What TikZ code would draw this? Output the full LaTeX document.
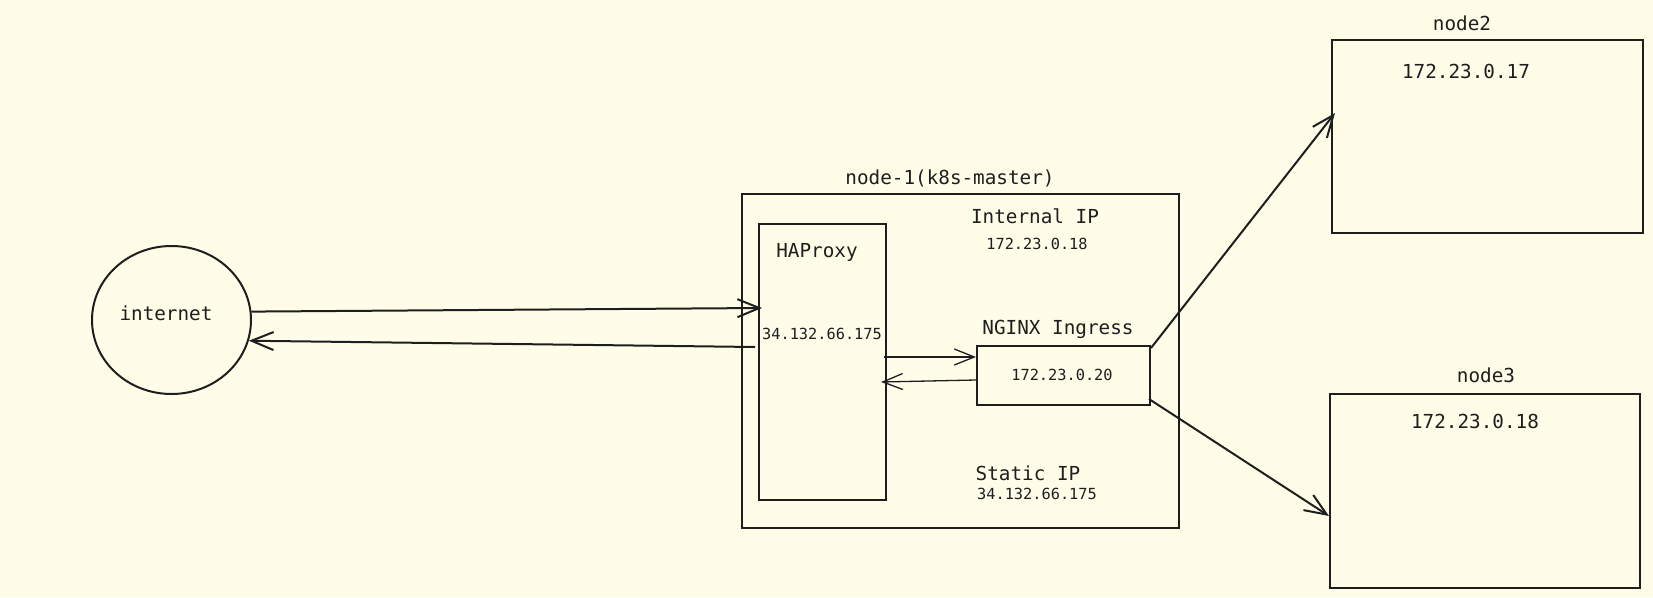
\documentclass[tikz,border=0pt]{standalone}
\usepackage{fontspec}
\setmonofont{DejaVu Sans Mono}
\usepackage{tikz}
\usetikzlibrary{arrows.meta, shapes.geometric}

\definecolor{paper}{RGB}{255,253,232}
\definecolor{ink}{RGB}{30,30,30}

\tikzset{
  box/.style = {draw = ink, line width = 2pt, inner sep = 0pt},
  bigtxt/.style = {text = ink, anchor = mid, font = \ttfamily\fontsize{19.3}{22}\selectfont},
  smalltxt/.style = {text = ink, anchor = mid, font = \ttfamily\fontsize{15.3}{18}\selectfont},
  link/.style = {draw = ink, line width = 2pt, -{Straight Barb[length = 22pt, width = 18pt]}},
  thinlink/.style = {draw = ink, line width = 1.3pt, -{Straight Barb[length = 20pt, width = 16pt]}}
}

\begin{document}
\begin{tikzpicture}[x = 1pt, y = -1pt]
\useasboundingbox[fill = paper] (0,0) rectangle (1653,597);

\node[box, ellipse, minimum width = 159pt, minimum height = 148pt] (inet) at (171.5,320) {};
\node[bigtxt] (inetlabel) at (166,318) {internet};

\node[box, minimum width = 437pt, minimum height = 334pt] (master) at (960.5,361) {};
\node[bigtxt] (masterlabel) at (950,182) {node-1(k8s-master)};
\node[bigtxt] (intlabel) at (1035,221) {Internal IP};
\node[smalltxt] (intip) at (1037,247) {172.23.0.18};
\node[bigtxt] (statlabel) at (1028,478) {Static IP};
\node[smalltxt] (statip) at (1037,497) {34.132.66.175};

\node[box, minimum width = 127pt, minimum height = 276pt] (hap) at (822.5,362) {};
\node[bigtxt] (haplabel) at (817,255) {HAProxy};
\node[smalltxt] (hapip) at (822,337) {34.132.66.175};

\node[box, minimum width = 173pt, minimum height = 59pt] (nginx) at (1063.5,375.5) {};
\node[bigtxt] (nginxlabel) at (1058,332) {NGINX Ingress};
\node[smalltxt] (nginxip) at (1062,378) {172.23.0.20};

\node[box, minimum width = 311pt, minimum height = 193pt] (node2) at (1487.5,136.5) {};
\node[bigtxt] (node2label) at (1462,28) {node2};
\node[bigtxt] (node2ip) at (1466,76) {172.23.0.17};

\node[box, minimum width = 310pt, minimum height = 194pt] (node3) at (1485,491) {};
\node[bigtxt] (node3label) at (1486,380) {node3};
\node[bigtxt] (node3ip) at (1475,426) {172.23.0.18};

\draw[link] (inet.6) -- ([shift = {(4pt,54pt)}]hap.west);
\draw[link] ([shift = {(-3pt,15pt)}]hap.west) -- (inet.-15);
\draw[thinlink] ([shift = {(-3pt,5pt)}]hap.east) -- ([yshift = 18.5pt]nginx.west);
\draw[thinlink] ([yshift = -4.5pt]nginx.west) -- ([shift = {(-6pt,-20pt)}]hap.east);
\draw[link] ([yshift = -3pt]nginx.north east) -- ([shift = {(4pt,23.5pt)}]node2.west);
\draw[link] ([shift = {(-2pt,7pt)}]nginx.south east) -- ([yshift = -25pt]node3.west);
\end{tikzpicture}
\end{document}
